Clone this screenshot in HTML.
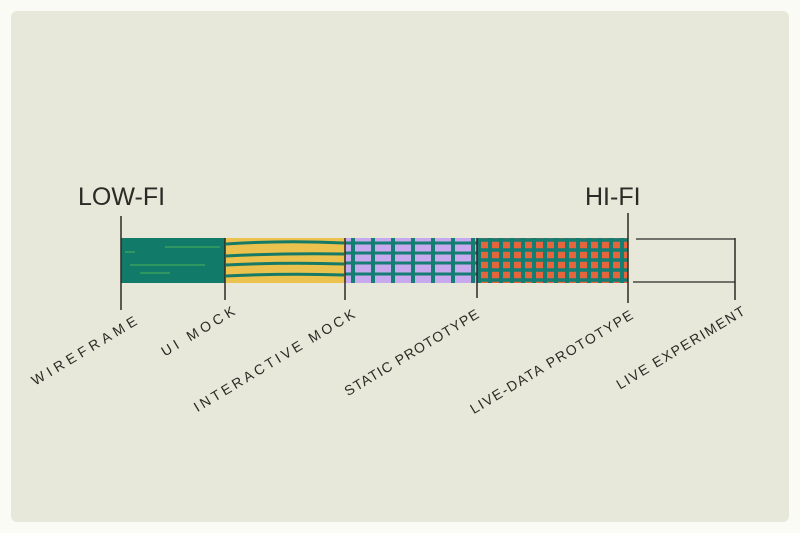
<!DOCTYPE html>
<html><head><style>
html,body{margin:0;padding:0;background:#fbfbf6;}
svg{display:block}
text{font-family:"Liberation Sans",sans-serif;fill:#2a2a26;}
</style></head><body>
<svg width="800" height="533" viewBox="0 0 800 533">
<rect x="0" y="0" width="800" height="533" fill="#fbfbf6"/>
<rect x="11" y="11" width="778" height="511" rx="6" fill="#e7e8d9"/>
<defs>
<pattern id="lav" width="20" height="45" patternUnits="userSpaceOnUse" x="345" y="238">
<rect width="20" height="45" fill="#c7a9ee"/>
<rect x="6" width="4" height="45" fill="#157d72"/>
</pattern>
<pattern id="org" width="11" height="45" patternUnits="userSpaceOnUse" x="477" y="238">
<rect width="11" height="45" fill="#e5663c"/>
<rect x="0" width="4" height="45" fill="#137d72"/>
</pattern>
</defs>
<rect x="121" y="238" width="104" height="45" fill="#127a68"/>
<path d="M165 247H220M130 265H205M140 273H170M125 252H135" stroke="#4fb35a" stroke-width="1"/>
<rect x="225" y="238" width="120" height="45" fill="#ecc24f"/>
<path d="M226 244Q285 240 344 243M226 256Q285 253 344 254M226 265Q285 262 344 264M226 276Q285 273 344 275" stroke="#167a66" stroke-width="3" fill="none"/>
<rect x="345" y="238" width="132" height="45" fill="url(#lav)"/>
<path d="M345 243H477M345 253H477M345 263H477M345 274H477" stroke="#157d72" stroke-width="3"/>
<rect x="477" y="238" width="151" height="45" fill="url(#org)"/>
<path d="M477 240H628M477 250H628M477 260H628M477 270H628M477 280H628" stroke="#137d72" stroke-width="3.5"/>
<path d="M636 239H735M633 282H735" stroke="#2a2a26" stroke-width="1.2"/>
<g stroke="#2a2a26" stroke-width="1.5">
<line x1="121" y1="216" x2="121" y2="310"/>
<line x1="225" y1="238" x2="225" y2="300"/>
<line x1="345" y1="238" x2="345" y2="300"/>
<line x1="477" y1="238" x2="477" y2="298"/>
<line x1="628" y1="213" x2="628" y2="303"/>
<line x1="735" y1="238" x2="735" y2="300"/>
</g>
<text x="78" y="205" font-size="25">LOW-FI</text>
<text x="585" y="205" font-size="25">HI-FI</text>
<g font-size="14" text-anchor="end">
<text transform="translate(138,324) rotate(-31)" textLength="120" lengthAdjust="spacing">WIREFRAME</text>
<text transform="translate(236,314) rotate(-31)" textLength="83" lengthAdjust="spacing">UI MOCK</text>
<text transform="translate(356,317) rotate(-31)" textLength="185" lengthAdjust="spacing">INTERACTIVE MOCK</text>
<text transform="translate(480,317) rotate(-31)" textLength="154" lengthAdjust="spacing">STATIC PROTOTYPE</text>
<text transform="translate(634,318) rotate(-31)" textLength="187" lengthAdjust="spacing">LIVE-DATA PROTOTYPE</text>
<text transform="translate(746,314) rotate(-31)" textLength="147" lengthAdjust="spacing">LIVE EXPERIMENT</text>
</g>
</svg>
</body></html>
